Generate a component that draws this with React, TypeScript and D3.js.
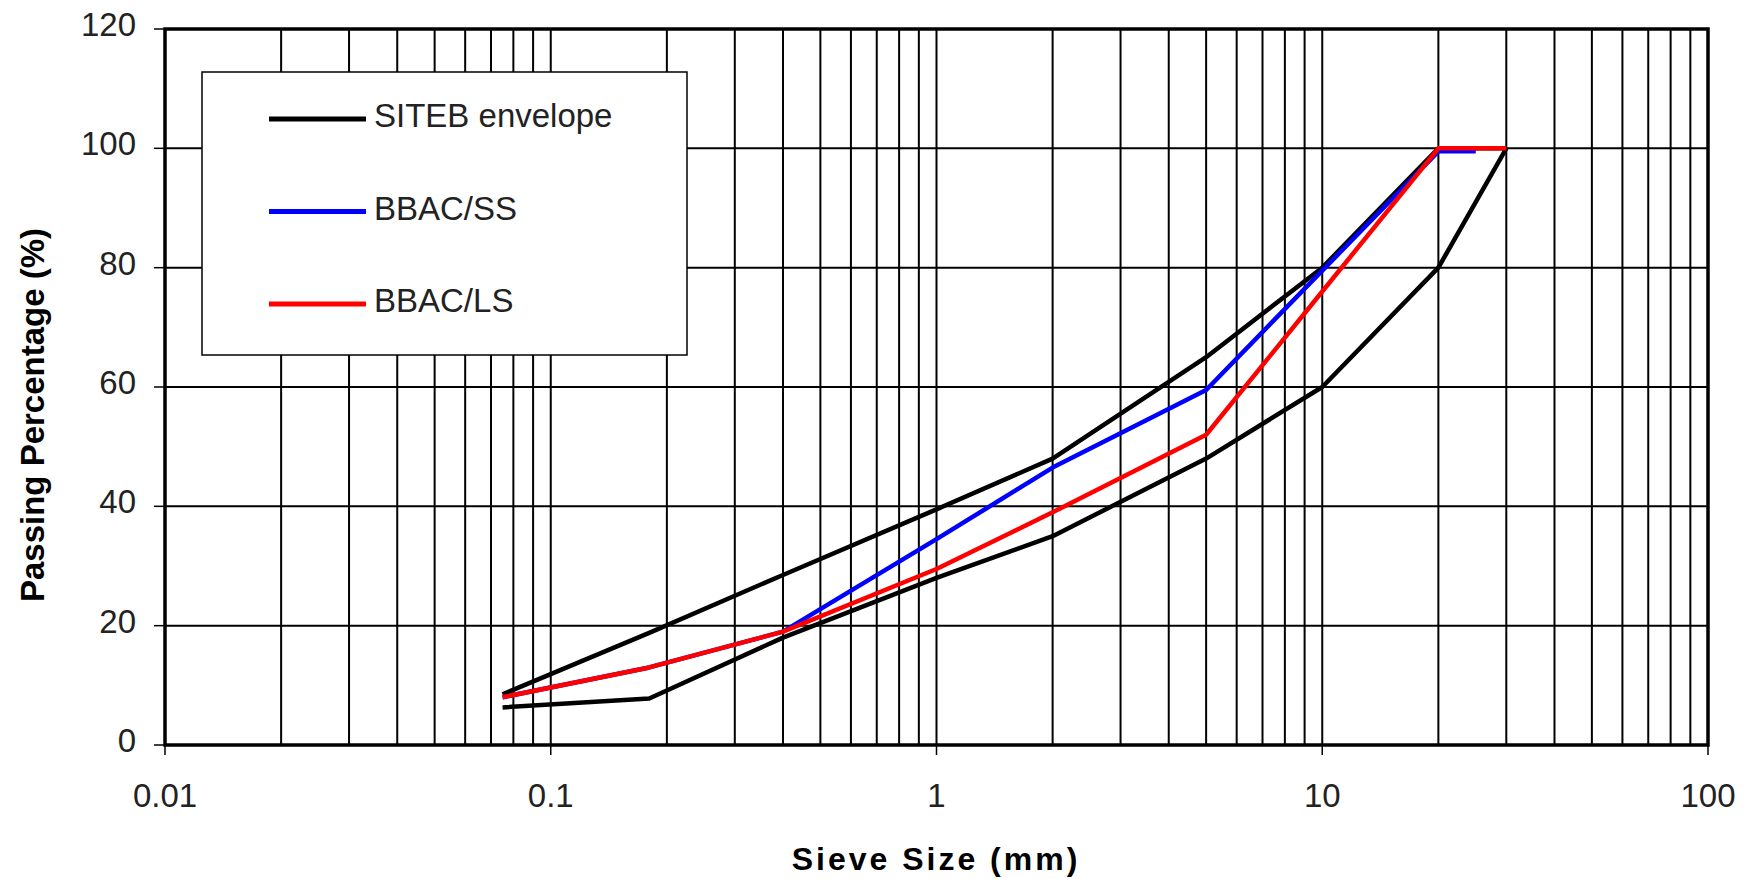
import React, { useEffect, useRef } from 'react';
import * as d3 from 'd3';

const width = 1748;
const height = 879;
const margin = { left: 165, right: 40, top: 29, bottom: 134 };

// sieve sizes (mm) and passing percentages
const sieveSizes = [0.075, 0.18, 0.4, 1, 2, 5, 10, 20, 30];
const sieveSizesSS = [0.075, 0.18, 0.4, 1, 2, 5, 10, 20, 25];
const upperEnvelope = [8.5, 18.8, 28.5, 39.5, 48, 65, 80, 100, 100];
const lowerEnvelope = [6.3, 7.8, 18, 28, 35, 48, 60, 80, 100];
const bbacSS = [8, 13, 19, 34.5, 46.5, 59.5, 79.5, 99.5, 99.5];
const bbacLS = [8, 13, 19, 29.5, 39, 52, 76, 100, 100];

const xTicks = [0.01, 0.1, 1, 10, 100];
const xTickLabels = ['0.01', '0.1', '1', '10', '100'];
const yTicks = [0, 20, 40, 60, 80, 100, 120];

const legendItems = [
  { label: 'SITEB envelope', color: '#000000' },
  { label: 'BBAC/SS', color: '#0000ff' },
  { label: 'BBAC/LS', color: '#ff0000' },
];

const font = "Arial, 'Liberation Sans', sans-serif";

function GradingChart() {
  const ref = useRef<HTMLDivElement>(null);

  useEffect(() => {
    const root = d3.select(ref.current);
    root.selectAll('*').remove();

    const svg = root
      .append('svg')
      .attr('width', width)
      .attr('height', height)
      .style('position', 'absolute')
      .style('left', '0px')
      .style('top', '0px')
      .style('background', '#fff');

    const x = d3.scaleLog().domain([0.01, 100]).range([margin.left, width - margin.right]);
    const y = d3.scaleLinear().domain([0, 120]).range([height - margin.bottom, margin.top]);

    const [x0, x1] = x.range();
    const [y0, y1] = y.range();

    // minor + major vertical grid
    const gridX: number[] = [];
    [0.01, 0.1, 1, 10].forEach((d) => {
      for (let k = 1; k <= 9; k++) gridX.push(d * k);
    });
    svg.append('g')
      .selectAll('line')
      .data(gridX.filter((v) => v > 0.01))
      .enter()
      .append('line')
      .attr('x1', (d) => x(d))
      .attr('x2', (d) => x(d))
      .attr('y1', y0)
      .attr('y2', y1)
      .attr('stroke', '#000')
      .attr('stroke-width', 2);

    svg.append('g')
      .selectAll('line')
      .data(yTicks.filter((v) => v > 0 && v < 120))
      .enter()
      .append('line')
      .attr('x1', x0)
      .attr('x2', x1)
      .attr('y1', (d) => y(d))
      .attr('y2', (d) => y(d))
      .attr('stroke', '#000')
      .attr('stroke-width', 2);

    // tick marks
    svg.append('g')
      .selectAll('line')
      .data(yTicks)
      .enter()
      .append('line')
      .attr('x1', x0 - 11)
      .attr('x2', x0)
      .attr('y1', (d) => y(d))
      .attr('y2', (d) => y(d))
      .attr('stroke', '#000')
      .attr('stroke-width', 1.5);

    svg.append('g')
      .selectAll('line')
      .data(xTicks)
      .enter()
      .append('line')
      .attr('x1', (d) => x(d))
      .attr('x2', (d) => x(d))
      .attr('y1', y0)
      .attr('y2', y0 + 10)
      .attr('stroke', '#000')
      .attr('stroke-width', 1.5);

    // series
    const line = d3.line<[number, number]>()
      .x((d) => x(d[0]))
      .y((d) => y(d[1]));

    const series = [
      { sizes: sieveSizes, values: lowerEnvelope, color: '#000000' },
      { sizes: sieveSizes, values: upperEnvelope, color: '#000000' },
      { sizes: sieveSizesSS, values: bbacSS, color: '#0000ff' },
      { sizes: sieveSizes, values: bbacLS, color: '#ff0000' },
    ];

    svg.append('g')
      .selectAll('path')
      .data(series)
      .enter()
      .append('path')
      .attr('d', (s) => line(s.sizes.map((v, i) => [v, s.values[i]] as [number, number])))
      .attr('fill', 'none')
      .attr('stroke', (s) => s.color)
      .attr('stroke-width', 4.5)
      .attr('stroke-linejoin', 'round');

    // frame
    svg.append('rect')
      .attr('x', x0)
      .attr('y', y1)
      .attr('width', x1 - x0)
      .attr('height', y0 - y1)
      .attr('fill', 'none')
      .attr('stroke', '#000')
      .attr('stroke-width', 3.5);

    // tick labels
    svg.append('g')
      .selectAll('text')
      .data(yTicks)
      .enter()
      .append('text')
      .attr('x', 136)
      .attr('y', (d) => y(d) + 7)
      .attr('text-anchor', 'end')
      .attr('font-family', font)
      .attr('font-size', 33)
      .attr('fill', '#222')
      .text((d) => d);

    svg.append('g')
      .selectAll('text')
      .data(xTicks)
      .enter()
      .append('text')
      .attr('x', (d) => x(d))
      .attr('y', 807)
      .attr('text-anchor', 'middle')
      .attr('font-family', font)
      .attr('font-size', 33)
      .attr('fill', '#222')
      .text((d, i) => xTickLabels[i]);

    // axis titles
    svg.append('text')
      .attr('x', 936)
      .attr('y', 870)
      .attr('text-anchor', 'middle')
      .attr('font-family', font)
      .attr('font-size', 32)
      .attr('font-weight', 'bold')
      .attr('letter-spacing', 3)
      .text('Sieve Size (mm)');

    svg.append('text')
      .attr('transform', 'translate(44, 415) rotate(-90)')
      .attr('text-anchor', 'middle')
      .attr('font-family', font)
      .attr('font-size', 33)
      .attr('font-weight', 'bold')
      .text('Passing Percentage (%)');

    // legend
    const legend = svg.append('g');
    legend.append('rect')
      .attr('x', 202)
      .attr('y', 72)
      .attr('width', 485)
      .attr('height', 283)
      .attr('fill', '#fff')
      .attr('stroke', '#000')
      .attr('stroke-width', 1.5);

    const rows = legend.selectAll('g.item')
      .data(legendItems)
      .enter()
      .append('g')
      .attr('class', 'item')
      .attr('transform', (d, i) => `translate(0, ${i * 92.5})`);

    rows.append('line')
      .attr('x1', 269)
      .attr('x2', 366)
      .attr('y1', 119)
      .attr('y2', 119)
      .attr('stroke', (d) => d.color)
      .attr('stroke-width', 5);

    rows.append('text')
      .attr('x', 374)
      .attr('y', 127)
      .attr('font-family', font)
      .attr('font-size', 33)
      .attr('fill', '#222')
      .text((d) => d.label);
  }, []);

  return <div ref={ref}></div>;
}

export default function App() {
  return <GradingChart />;
}
